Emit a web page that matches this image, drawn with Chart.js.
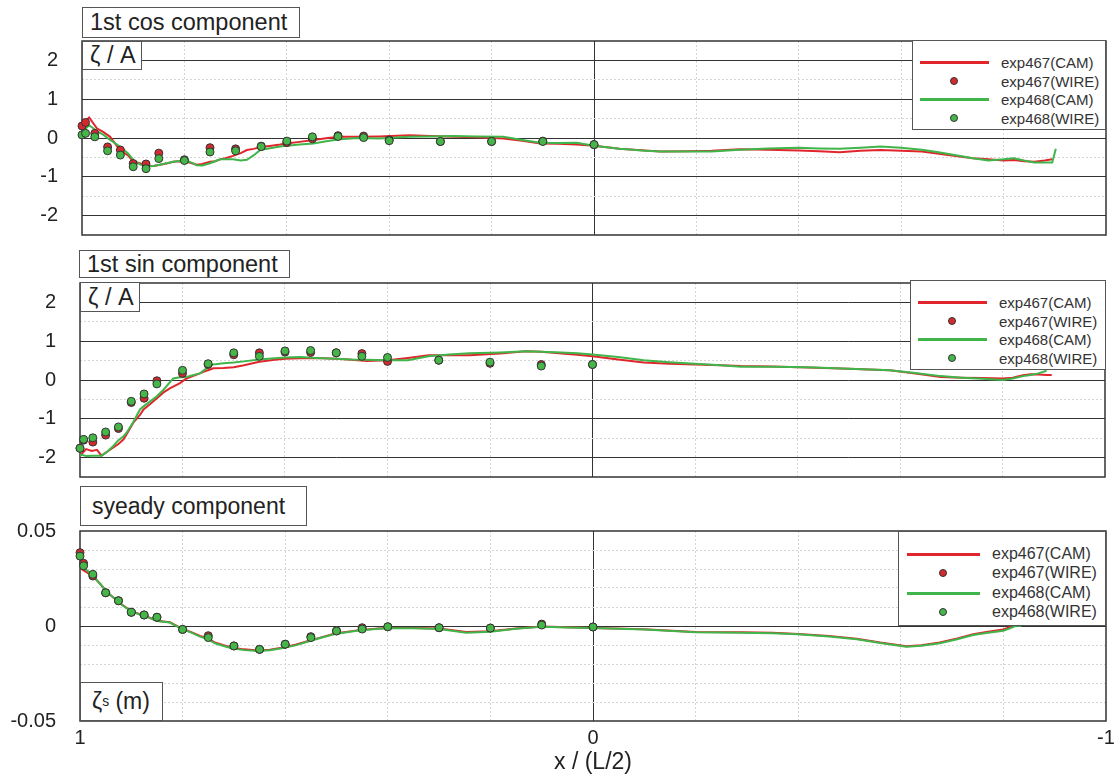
<!DOCTYPE html>
<html>
<head>
<meta charset="utf-8">
<script src="https://cdn.jsdelivr.net/npm/chart.js@4.4.1/dist/chart.umd.min.js"></script>
<style>
body{margin:0;background:#fff;font-family:"Liberation Sans",Arial,sans-serif;color:#222}
#wrap{position:relative;width:1118px;height:778px;overflow:hidden}
canvas{position:absolute;left:0}
.box{position:absolute;box-sizing:border-box;border:1px solid #555;background:#fff;white-space:nowrap;display:flex;align-items:center}
.legend{position:absolute;box-sizing:border-box;border:1px solid #555;background:#fff}
.legend span{position:absolute;transform:translateY(-50%);line-height:1;white-space:nowrap;color:#333}
.legend i{position:absolute}
sub{font-size:60%;vertical-align:-0.25em}
</style>
</head>
<body>
<div id="wrap">
  <canvas id="cosChart" width="1118" height="245" style="top:0"></canvas>
  <canvas id="sinChart" width="1118" height="240" style="top:245px"></canvas>
  <canvas id="steadyChart" width="1118" height="293" style="top:485px"></canvas>

  <div class="box" style="left:82px;top:7px;width:218px;height:31px;font-size:23.5px;padding-left:7px">1st cos component</div>
  <div class="box" style="left:82px;top:41px;width:60px;height:29px;font-size:23.5px;padding-left:7px">ζ / A</div>
  <div class="box" style="left:79px;top:250px;width:211px;height:28px;font-size:23.5px;padding-left:7px">1st sin component</div>
  <div class="box" style="left:80px;top:282px;width:60px;height:30px;font-size:23.5px;padding-left:7px">ζ / A</div>
  <div class="box" style="left:80px;top:486px;width:227px;height:40px;font-size:23px;padding-left:11px">syeady component</div>
  <div class="box" style="left:80px;top:682px;width:83px;height:39px;font-size:23px;padding-left:11px">ζ<sub>s</sub>&nbsp;(m)</div>
</div>
<script>
// wire gauge positions, x / (L/2)
const wireX = [1.0, 0.993, 0.975, 0.95, 0.925, 0.9, 0.875, 0.85, 0.8, 0.75, 0.7, 0.65, 0.6, 0.55, 0.5, 0.45, 0.4, 0.3, 0.2, 0.1, 0.0]

// 1st cos component
const cosWire467 = [0.31, 0.40, 0.12, -0.23, -0.31, -0.66, -0.67, -0.39, -0.56, -0.25, -0.28, -0.21, -0.12, -0.02, 0.06, 0.05, -0.05, -0.09, -0.09, -0.08, -0.17]
const cosWire468 = [0.08, 0.12, 0.03, -0.33, -0.44, -0.74, -0.79, -0.53, -0.58, -0.36, -0.33, -0.22, -0.08, 0.03, 0.04, 0.01, -0.07, -0.09, -0.09, -0.09, -0.17]
const cosCamX = [1.0, 0.995, 0.986, 0.971, 0.958, 0.945, 0.926, 0.91, 0.9, 0.887,
  0.874, 0.86, 0.848, 0.835, 0.822, 0.81, 0.796, 0.785, 0.776, 0.765,
  0.75, 0.74, 0.73, 0.72, 0.705, 0.69, 0.678, 0.665, 0.652, 0.63,
  0.613, 0.6, 0.575, 0.548, 0.52, 0.496, 0.46, 0.42, 0.36, 0.32,
  0.275, 0.23, 0.177, 0.14, 0.105, 0.07, 0.034, 0.0, -0.05, -0.1,
  -0.13, -0.18, -0.23, -0.285, -0.34, -0.4, -0.44, -0.48, -0.52, -0.56,
  -0.6, -0.64, -0.67, -0.71, -0.74, -0.77, -0.8, -0.82, -0.84, -0.86,
  -0.88, -0.895, -0.902]
const cosCam467 = [0.35, 0.42, 0.53, 0.25, 0.15, 0.03, -0.31, -0.45, -0.61, -0.65,
  -0.73, -0.72, -0.69, -0.66, -0.61, -0.60, -0.61, -0.65, -0.69, -0.67,
  -0.61, -0.60, -0.55, -0.52, -0.46, -0.39, -0.31, -0.28, -0.24, -0.20,
  -0.17, -0.14, -0.10, -0.05, 0.00, 0.03, 0.03, 0.04, 0.07, 0.05,
  0.03, 0.02, -0.01, -0.07, -0.14, -0.15, -0.17, -0.20, -0.28, -0.32,
  -0.35, -0.34, -0.33, -0.29, -0.30, -0.32, -0.34, -0.37, -0.33, -0.31,
  -0.33, -0.35, -0.40, -0.47, -0.52, -0.55, -0.58, -0.57, -0.60, -0.61,
  -0.58, -0.55, null]
const cosCam468 = [0.12, 0.22, 0.33, 0.18, 0.08, -0.05, -0.22, -0.40, -0.56, -0.68,
  -0.73, -0.72, -0.69, -0.65, -0.61, -0.59, -0.58, -0.64, -0.70, -0.71,
  -0.65, -0.60, -0.55, -0.55, -0.55, -0.58, -0.56, -0.45, -0.31, -0.26,
  -0.22, -0.20, -0.17, -0.14, -0.08, -0.03, 0.00, -0.01, 0.03, 0.04,
  0.05, 0.04, 0.03, -0.05, -0.12, -0.13, -0.12, -0.20, -0.28, -0.33,
  -0.35, -0.35, -0.35, -0.30, -0.27, -0.25, -0.27, -0.28, -0.25, -0.22,
  -0.25, -0.30, -0.36, -0.45, -0.52, -0.58, -0.55, -0.52, -0.58, -0.63,
  -0.63, -0.63, -0.28]

// 1st sin component
const sinWire467 = [-1.76, -1.55, -1.60, -1.42, -1.25, -0.58, -0.47, -0.02, 0.17, 0.40, 0.65, 0.70, 0.72, 0.71, 0.70, 0.68, 0.48, 0.51, 0.43, 0.40, 0.40]
const sinWire468 = [-1.76, -1.53, -1.49, -1.34, -1.21, -0.55, -0.36, -0.10, 0.25, 0.42, 0.70, 0.61, 0.75, 0.76, 0.70, 0.61, 0.58, 0.51, 0.46, 0.36, 0.40]
const sinCamX = [1.0, 0.997, 0.988, 0.977, 0.967, 0.958, 0.947, 0.935, 0.925, 0.915,
  0.909, 0.896, 0.883, 0.876, 0.863, 0.85, 0.837, 0.824, 0.818, 0.805,
  0.792, 0.78, 0.766, 0.753, 0.746, 0.74, 0.72, 0.7, 0.68, 0.65,
  0.62, 0.6, 0.57, 0.54, 0.5, 0.47, 0.44, 0.4, 0.36, 0.32,
  0.28, 0.24, 0.18, 0.13, 0.1, 0.06, 0.03, 0.0, -0.05, -0.1,
  -0.15, -0.2, -0.25, -0.29, -0.35, -0.42, -0.5, -0.58, -0.63, -0.68,
  -0.72, -0.76, -0.8, -0.82, -0.84, -0.855, -0.87, -0.886, -0.896]
const sinCam467 = [-1.96, -1.91, -1.78, -1.83, -1.80, -1.95, -1.85, -1.74, -1.65, -1.53,
  -1.40, -1.10, -0.90, -0.76, -0.62, -0.47, -0.32, -0.21, -0.17, -0.08,
  0.04, 0.10, 0.17, 0.24, 0.27, 0.30, 0.31, 0.33, 0.38, 0.47,
  0.52, 0.55, 0.56, 0.57, 0.55, 0.52, 0.49, 0.51, 0.57, 0.64,
  0.64, 0.64, 0.68, 0.74, 0.73, 0.68, 0.65, 0.61, 0.53, 0.45,
  0.42, 0.40, 0.38, 0.36, 0.35, 0.32, 0.29, 0.25, 0.17, 0.08,
  0.06, 0.05, 0.04, 0.06, 0.12, 0.15, 0.14, 0.13, 0.13]
const sinCam468 = [-1.95, -1.93, -1.96, -1.95, -1.95, -1.95, -1.85, -1.70, -1.55, -1.45,
  -1.36, -1.08, -0.76, -0.68, -0.55, -0.42, -0.25, -0.05, 0.04, 0.07,
  0.08, 0.12, 0.17, 0.30, 0.38, 0.40, 0.43, 0.45, 0.48, 0.53,
  0.56, 0.58, 0.59, 0.57, 0.55, 0.53, 0.52, 0.51, 0.51, 0.61,
  0.66, 0.69, 0.71, 0.74, 0.73, 0.71, 0.69, 0.66, 0.59, 0.51,
  0.46, 0.42, 0.38, 0.34, 0.34, 0.33, 0.29, 0.25, 0.18, 0.10,
  0.06, 0.03, 0.00, 0.04, 0.10, 0.13, 0.17, 0.24, null]

// steady component (m)
const steadyWire467 = [0.0386, 0.0330, 0.0263, 0.0175, 0.0133, 0.0072, 0.0058, 0.0046, -0.0018, -0.0051, -0.0105, -0.0123, -0.0096, -0.0056, -0.0026, -0.0009, -0.0004, -0.0009, -0.0011, 0.0010, -0.0005]
const steadyWire468 = [0.0368, 0.0317, 0.0272, 0.0175, 0.0133, 0.0072, 0.0058, 0.0046, -0.0018, -0.0061, -0.0105, -0.0123, -0.0096, -0.0061, -0.0026, -0.0016, -0.0004, -0.0009, -0.0011, 0.0005, -0.0005]
const steadyCamX = [1.0, 0.997, 0.985, 0.974, 0.96, 0.948, 0.935, 0.922, 0.91, 0.896,
  0.883, 0.87, 0.85, 0.825, 0.8, 0.783, 0.766, 0.75, 0.737, 0.72,
  0.705, 0.68, 0.653, 0.63, 0.607, 0.58, 0.555, 0.53, 0.503, 0.46,
  0.419, 0.399, 0.35, 0.3, 0.247, 0.2, 0.15, 0.1, 0.05, 0.0,
  -0.1, -0.2, -0.29, -0.35, -0.4, -0.46, -0.514, -0.56, -0.611, -0.64,
  -0.676, -0.71, -0.741, -0.77, -0.8, -0.815, -0.826, -0.835]
const steadyCam467 = [0.033, 0.030, 0.028, 0.026, 0.022, 0.018, 0.015, 0.012, 0.0097, 0.0074,
  0.0062, 0.005, 0.0028, 0.002, -0.0015, -0.0032, -0.0052, -0.0066, -0.0087, -0.0101,
  -0.0113, -0.0123, -0.0129, -0.0125, -0.0114, -0.0099, -0.0079, -0.006, -0.004, -0.0023,
  -0.0013, -0.001, -0.001, -0.0013, -0.0032, -0.0028, -0.0013, -0.0002, -0.0006, -0.001,
  -0.0017, -0.0031, -0.0033, -0.0036, -0.0042, -0.0052, -0.0067, -0.0087, -0.0106, -0.0101,
  -0.0087, -0.0066, -0.0043, -0.003, -0.0018, -0.0003, null, null]
const steadyCam468 = [0.034, 0.031, 0.029, 0.026, 0.022, 0.018, 0.015, 0.012, 0.0095, 0.0072,
  0.006, 0.0049, 0.0026, 0.0018, -0.0018, -0.0035, -0.0056, -0.007, -0.0091, -0.0105,
  -0.0117, -0.0127, -0.0132, -0.0128, -0.0117, -0.0102, -0.0082, -0.0062, -0.0042, -0.0025,
  -0.0015, -0.0012, -0.0012, -0.0016, -0.0035, -0.003, -0.0015, -0.0004, -0.0008, -0.0011,
  -0.0019, -0.0033, -0.0035, -0.0038, -0.0044, -0.0055, -0.007, -0.009, -0.0109, -0.0104,
  -0.0091, -0.007, -0.0047, -0.0035, -0.0025, -0.001, 0.0002, 0.0]

const RED = '#e0262c'
const RED_DOT = '#d42a2e'
const GREEN = '#3fb54a'
const GREEN_DOT = '#47b649'

Chart.defaults.font.family = '"Liberation Sans", Arial, sans-serif'
Chart.defaults.color = '#222'

const pts = (xs, ys) => xs.map((x, i) => ({x, y: ys[i]})).filter(p => p.y !== null)
const near = (a, b) => Math.abs(a - b) < 1e-6

function makeDatasets(camX, cam467, cam468, wire467, wire468) {
  return [
    {label: 'exp467(CAM)', data: pts(camX, cam467), showLine: true, borderColor: RED, backgroundColor: RED, borderWidth: 2, pointRadius: 0, order: 3},
    {label: 'exp467(WIRE)', data: pts(wireX, wire467), pointRadius: 4, pointBackgroundColor: RED_DOT, pointBorderColor: '#333', pointBorderWidth: 1, order: 1, clip: false},
    {label: 'exp468(CAM)', data: pts(camX, cam468), showLine: true, borderColor: GREEN, backgroundColor: GREEN, borderWidth: 2, pointRadius: 0, order: 2},
    {label: 'exp468(WIRE)', data: pts(wireX, wire468), pointRadius: 4, pointBackgroundColor: GREEN_DOT, pointBorderColor: '#333', pointBorderWidth: 1, order: 0, clip: false}
  ]
}

// frame round the plot area
const framePlugin = {
  id: 'frame',
  beforeDatasetsDraw(chart) {
    const {ctx, chartArea: a} = chart
    ctx.save()
    ctx.strokeStyle = '#333'
    ctx.lineWidth = 1.5
    ctx.strokeRect(a.left, a.top, a.right - a.left, a.bottom - a.top)
    ctx.restore()
  }
}

// grid: solid dark for major values, light dotted for minor ones, none on the frame
const gridColor = (major, edge) => c => {
  const v = c.tick ? c.tick.value : 0
  if (edge(v)) return 'rgba(0,0,0,0)'
  return major(v) ? '#333' : '#d6d6d6'
}
const gridDash = major => c => (c.tick && !major(c.tick.value)) ? [2, 2] : []

const xMajor = v => near(v, 0)
const xEdge = v => near(Math.abs(v), 1)

function makeOptions(cfg) {
  return {
    responsive: false,
    animation: false,
    layout: {autoPadding: false, padding: {top: cfg.top, right: 1118 - cfg.right, left: 0, bottom: 0}},
    plugins: {legend: {display: false}, tooltip: {enabled: false}},
    scales: {
      x: {
        type: 'linear', min: -1, max: 1, reverse: true,
        ticks: {
          stepSize: 0.2, display: cfg.xLabels, autoSkip: false, maxRotation: 0, padding: 5,
          font: {size: 20}, color: '#222',
          callback: v => near(v, 0) ? '0' : near(Math.abs(v), 1) ? String(Math.round(v)) : ''
        },
        grid: {drawTicks: false, color: gridColor(xMajor, xEdge), lineWidth: 1},
        border: {display: false, dash: gridDash(xMajor)},
        title: {display: cfg.xLabels, text: 'x / (L/2)', font: {size: 23}, color: '#222', padding: {top: 0, bottom: 2}},
        afterFit: s => { s.height = cfg.xh; s.paddingLeft = 0; s.paddingRight = 0 }
      },
      y: {
        type: 'linear', min: cfg.ymin, max: cfg.ymax,
        ticks: {stepSize: cfg.ystep, autoSkip: false, padding: 24, font: {size: 20}, color: '#222', callback: cfg.ylabel},
        grid: {drawTicks: false, color: gridColor(cfg.ymajor, cfg.yedge), lineWidth: 1},
        border: {display: false, dash: gridDash(cfg.ymajor)},
        // keep the label half-heights from eating into the plot area
        afterFit: s => { s.width = cfg.left; s.paddingTop = 0; s.paddingBottom = 0 }
      }
    }
  }
}

function makeLegend(chart, cfg) {
  const box = document.createElement('div')
  box.className = 'legend'
  Object.assign(box.style, {left: cfg.left + 'px', top: cfg.top + 'px', width: cfg.w + 'px', height: cfg.h + 'px', fontSize: cfg.font + 'px'})
  chart.data.datasets.forEach((ds, i) => {
    const y = cfg.rows[i]
    const mark = document.createElement('i')
    if (ds.showLine) {
      Object.assign(mark.style, {left: cfg.l0 + 'px', width: (cfg.l1 - cfg.l0) + 'px', top: (y - 1.5) + 'px', height: '3px', background: ds.borderColor})
    } else {
      Object.assign(mark.style, {left: (cfg.dot - 4) + 'px', top: (y - 4) + 'px', width: '8px', height: '8px', boxSizing: 'border-box',
        borderRadius: '50%', border: '1px solid #333', background: ds.pointBackgroundColor})
    }
    const txt = document.createElement('span')
    txt.textContent = ds.label
    Object.assign(txt.style, {left: cfg.text + 'px', top: y + 'px'})
    box.appendChild(mark)
    box.appendChild(txt)
  })
  document.getElementById('wrap').appendChild(box)
}

const ampMajor = v => near(v, Math.round(v))
const ampEdge = v => near(Math.abs(v), 2.5)
const ampLabel = v => (ampMajor(v) && !ampEdge(v)) ? String(Math.round(v)) : ''

const cosChart = new Chart(document.getElementById('cosChart'), {
  type: 'scatter',
  data: {datasets: makeDatasets(cosCamX, cosCam467, cosCam468, cosWire467, cosWire468)},
  options: makeOptions({top: 41, left: 82, right: 1106, xh: 10, xLabels: false,
    ymin: -2.5, ymax: 2.5, ystep: 0.5, ymajor: ampMajor, yedge: ampEdge, ylabel: ampLabel}),
  plugins: [framePlugin]
})

const sinChart = new Chart(document.getElementById('sinChart'), {
  type: 'scatter',
  data: {datasets: makeDatasets(sinCamX, sinCam467, sinCam468, sinWire467, sinWire468)},
  options: makeOptions({top: 38, left: 80, right: 1105, xh: 8, xLabels: false,
    ymin: -2.5, ymax: 2.5, ystep: 0.5, ymajor: ampMajor, yedge: ampEdge, ylabel: ampLabel}),
  plugins: [framePlugin]
})

const steadyChart = new Chart(document.getElementById('steadyChart'), {
  type: 'scatter',
  data: {datasets: makeDatasets(steadyCamX, steadyCam467, steadyCam468, steadyWire467, steadyWire468)},
  options: makeOptions({top: 46, left: 80, right: 1106, xh: 57, xLabels: true,
    ymin: -0.05, ymax: 0.05, ystep: 0.01,
    ymajor: v => near(v, 0),
    yedge: v => near(Math.abs(v), 0.05),
    ylabel: v => near(v, 0) ? '0' : near(v, 0.05) ? '0.05' : near(v, -0.05) ? '-0.05' : ''}),
  plugins: [framePlugin]
})

makeLegend(cosChart, {left: 912, top: 40, w: 194, h: 90, rows: [21, 40, 58, 77], l0: 7, l1: 76, dot: 41, text: 88, font: 15})
makeLegend(sinChart, {left: 910, top: 280, w: 196, h: 90, rows: [21, 40, 58, 77], l0: 7, l1: 76, dot: 41, text: 88, font: 15})
makeLegend(steadyChart, {left: 898, top: 531, w: 208, h: 95, rows: [22, 41, 61, 80], l0: 8, l1: 81, dot: 44, text: 93, font: 16})
</script>
</body>
</html>
